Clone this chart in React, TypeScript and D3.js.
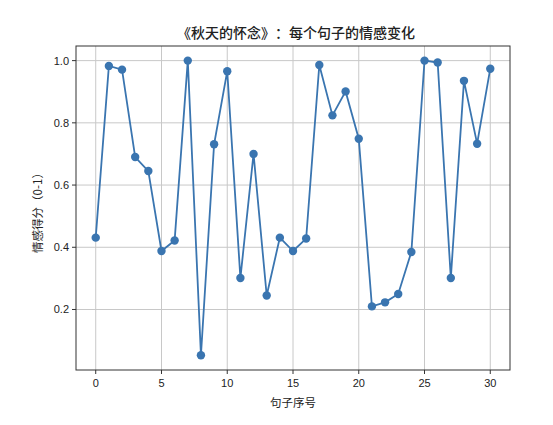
import React from "react";
import * as d3 from "d3";

const indices: number[] = Array.from({ length: 31 }, (_, i) => i);
const scores: number[] = [
  0.431, 0.983, 0.971, 0.69, 0.645, 0.388, 0.422, 1.0, 0.053, 0.731,
  0.966, 0.301, 0.7, 0.245, 0.431, 0.388, 0.428, 0.986, 0.824, 0.901,
  0.749, 0.21, 0.223, 0.25, 0.385, 1.0, 0.994, 0.301, 0.935, 0.733, 0.974,
];
const xTicks: number[] = [0, 5, 10, 15, 20, 25, 30];
const yTicks: number[] = [0.2, 0.4, 0.6, 0.8, 1.0];
const title = "《秋天的怀念》：每个句子的情感变化";
const xLabel = "句子序号";
const yLabel = "情感得分（0-1）";

export default function App() {
  const W = 553, H = 425;
  const left = 76, right = 510, top = 46, bottom = 370;
  const x = d3.scaleLinear().domain([-1.5, 31.5]).range([left, right]);
  const y = d3.scaleLinear().domain([0.0055, 1.047]).range([bottom, top]);
  const line = d3.line<number>().x((_, i) => x(indices[i])).y((d) => y(d));
  const color = "#3a75b0";
  const grid = "#c8c8c8";
  const tickFont = "'Liberation Sans', 'DejaVu Sans', sans-serif";
  const cjk = "'Noto Sans CJK SC', sans-serif";
  const cjkStyle: any = { textSpacingTrim: "space-all", fontKerning: "none" };
  return (
    <svg width={W} height={H} style={{ position: "absolute", left: 0, top: 0, background: "#fff" }}>
      <rect x={0} y={0} width={W} height={H} fill="#fff" />
      {xTicks.map((t) => (
        <line key={"gx" + t} x1={x(t)} x2={x(t)} y1={top} y2={bottom} stroke={grid} strokeWidth={1} />
      ))}
      {yTicks.map((t) => (
        <line key={"gy" + t} x1={left} x2={right} y1={y(t)} y2={y(t)} stroke={grid} strokeWidth={1} />
      ))}
      <path d={line(scores) || ""} fill="none" stroke={color} strokeWidth={1.8} />
      {scores.map((s, i) => (
        <circle key={i} cx={x(indices[i])} cy={y(s)} r={4.2} fill={color} />
      ))}
      <rect x={left} y={top} width={right - left} height={bottom - top} fill="none" stroke="#333" strokeWidth={1} />
      {xTicks.map((t) => (
        <g key={"tx" + t}>
          <line x1={x(t)} x2={x(t)} y1={bottom} y2={bottom + 4} stroke="#333" />
          <text x={x(t)} y={bottom + 17} textAnchor="middle" fontSize={11} fontFamily={tickFont} fill="#222">
            {t}
          </text>
        </g>
      ))}
      {yTicks.map((t) => (
        <g key={"ty" + t}>
          <line x1={left - 4} x2={left} y1={y(t)} y2={y(t)} stroke="#333" />
          <text x={left - 7} y={y(t) + 4} textAnchor="end" fontSize={11} fontFamily={tickFont} fill="#222">
            {t.toFixed(1)}
          </text>
        </g>
      ))}
      <text x={(left + right) / 2 + 3} y={38} textAnchor="middle" fontSize={14} fontWeight={500} fontFamily={cjk} fill="#222" style={cjkStyle}>
        {title}
      </text>
      <text x={(left + right) / 2} y={407} textAnchor="middle" fontSize={11.5} fontFamily={cjk} fill="#222" style={cjkStyle}>
        {xLabel}
      </text>
      <text
        transform={`translate(42, ${(top + bottom) / 2 + 2}) rotate(-90)`}
        textAnchor="middle"
        fontSize={11.5}
        fontFamily={cjk}
        fill="#222"
        style={cjkStyle}
      >
        {yLabel}
      </text>
    </svg>
  );
}
